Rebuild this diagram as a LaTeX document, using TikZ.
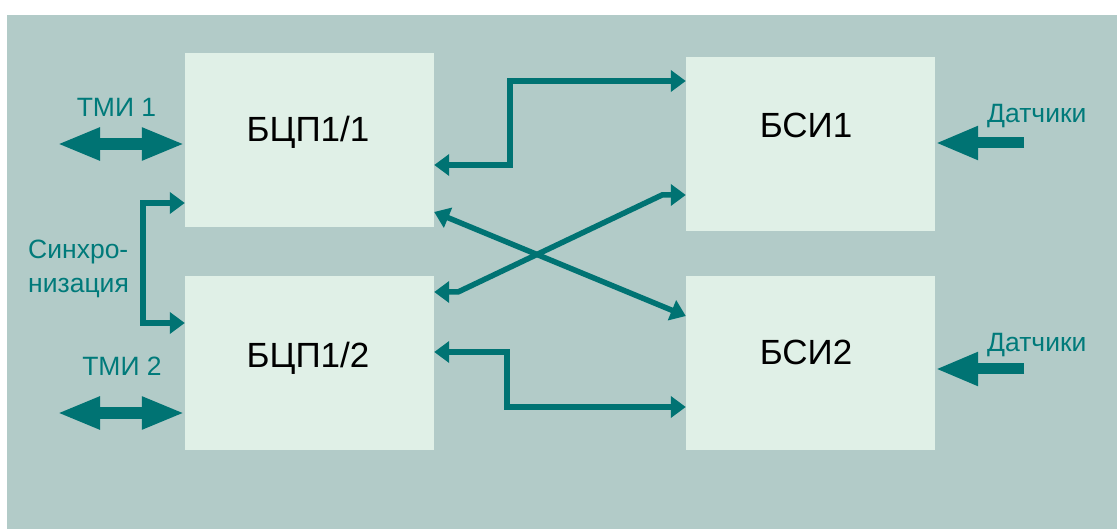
\documentclass[tikz,border=0pt]{standalone}
\usepackage{fontspec}
\setmainfont{Liberation Sans}
\usetikzlibrary{arrows.meta}
\definecolor{bg}{RGB}{178,203,200}
\definecolor{boxc}{RGB}{224,240,231}
\definecolor{tealc}{RGB}{0,115,115}
\definecolor{tealt}{RGB}{0,122,122}
\begin{document}
\begin{tikzpicture}[x=1pt,y=-1pt,
  block/.style={fill=boxc, draw=none, minimum width=249pt, minimum height=174pt, inner sep=0pt},
  btext/.style={font=\fontsize{35}{40}\selectfont, anchor=base, inner sep=0pt},
  lbl/.style={font=\fontsize{26.5}{30}\selectfont, text=tealt, inner sep=0pt},
  conn/.style={draw=tealc, line width=5.5pt, line join=miter,
    {Triangle[length=15pt,width=21pt]}-{Triangle[length=15pt,width=21pt]}},
  bigdbl/.style={draw=tealc, line width=12pt,
    {Triangle[length=43pt,width=30pt]}-{Triangle[length=43pt,width=30pt]}},
  bigone/.style={draw=tealc, line width=11pt, -{Triangle[length=43pt,width=31pt]}}]
\useasboundingbox (0,0) rectangle (1117,529);
\fill[bg] (7,15) rectangle (1117,529);
% blocks
\node[block] (b11) at (309.5,140) {};
\node[block] (b12) at (309.5,363) {};
\node[block] (s1) at (810.5,144) {};
\node[block] (s2) at (810.5,363) {};
\node[btext] (tb11) at (308,142) {БЦП1/1};
\node[btext] (tb12) at (308,367.5) {БЦП1/2};
\node[btext] (ts1) at (806,137.5) {БСИ1};
\node[btext] (ts2) at (806,364.5) {БСИ2};
% labels
\node[lbl, anchor=base] (tmi1) at (116.5,117) {ТМИ 1};
\node[lbl, anchor=base] (tmi2) at (122,376) {ТМИ 2};
\node[lbl, anchor=base west] (syn1) at (28,259) {Синхро-};
\node[lbl, anchor=base west] (syn2) at (28,293) {низация};
\node[lbl, anchor=base west] (dat1) at (987,123) {Датчики};
\node[lbl, anchor=base west] (dat2) at (987,352) {Датчики};
% free ends
\coordinate (e1) at (57,144);
\coordinate (e2) at (57,413);
\coordinate (d1) at (1024,143);
\coordinate (d2) at (1024,369);
% big arrows
\draw[bigdbl] (e1) -- ([yshift=-4pt]b11.west);
\draw[bigdbl] (e2) -- ([yshift=-50pt]b12.west);
\draw[bigone] (d1) -- ([yshift=1pt]s1.east);
\draw[bigone] (d2) -- ([yshift=-6pt]s2.east);
% sync
\draw[conn] ([yshift=-63pt]b11.west) -| (143,263) |- ([yshift=40pt]b12.west);
% connections
\draw[conn] ([yshift=-25pt]b11.east) -| (510,81) -- ([yshift=63pt]s1.west);
\draw[conn] ([yshift=-72pt]b11.east) -- ([yshift=47pt]s2.west);
\draw[conn] ([yshift=71pt]b12.east) -- (458,292) -- (662,195) -- ([yshift=-51pt]s1.west);
\draw[conn] ([yshift=11pt]b12.east) -| (507,407) -- ([yshift=-44pt]s2.west);
\end{tikzpicture}
\end{document}
